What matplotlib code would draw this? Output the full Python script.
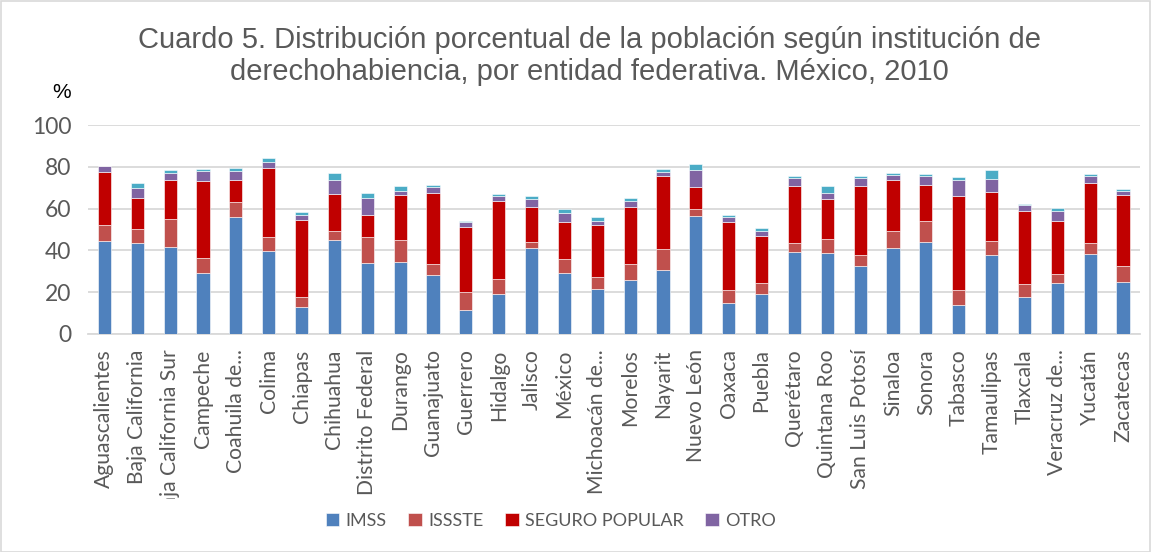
import matplotlib
matplotlib.use("Agg")
import matplotlib.pyplot as plt
from matplotlib.transforms import Bbox
from matplotlib.patches import Rectangle
import numpy as np

states = ["Aguascalientes", "Baja California", "Baja California Sur", "Campeche",
          "Coahuila de...", "Colima", "Chiapas", "Chihuahua", "Distrito Federal",
          "Durango", "Guanajuato", "Guerrero", "Hidalgo", "Jalisco", "México",
          "Michoacán de...", "Morelos", "Nayarit", "Nuevo León", "Oaxaca", "Puebla",
          "Querétaro", "Quintana Roo", "San Luis Potosí", "Sinaloa", "Sonora",
          "Tabasco", "Tamaulipas", "Tlaxcala", "Veracruz de...", "Yucatán", "Zacatecas"]

imss = [44.7, 43.6, 41.7, 29.2, 56.1, 39.6, 12.7, 45.0, 34.1, 34.5, 28.4, 11.7, 19.3,
        41.2, 29.2, 21.4, 26.0, 30.4, 56.4, 14.6, 19.3, 39.3, 38.7, 32.3, 41.2, 44.0,
        13.8, 37.9, 17.7, 24.4, 38.5, 25.0]
issste = [7.4, 6.8, 13.4, 7.2, 7.0, 7.0, 4.9, 4.4, 12.5, 10.5, 4.9, 8.3, 7.0, 3.0,
          6.9, 5.8, 7.3, 10.5, 3.5, 6.3, 4.9, 4.4, 6.9, 5.7, 8.2, 10.2, 7.1, 6.6, 6.1,
          4.1, 5.1, 7.3]
seguro = [25.5, 14.9, 18.4, 36.6, 10.6, 32.6, 37.1, 17.8, 10.3, 21.7, 34.3, 31.2,
          37.1, 16.8, 17.3, 24.9, 27.7, 34.8, 10.6, 32.6, 22.5, 27.3, 19.2, 33.0,
          24.1, 17.3, 44.9, 23.6, 35.1, 25.4, 28.8, 34.4]
otro = [2.7, 4.7, 3.7, 4.8, 4.1, 3.2, 2.2, 6.5, 8.1, 1.9, 2.6, 2.2, 2.5, 3.8, 4.7,
        2.2, 2.4, 1.9, 8.1, 2.7, 2.7, 3.6, 2.8, 3.5, 2.7, 4.2, 7.9, 5.9, 2.6, 4.9,
        3.3, 1.6]
extra = [0.3, 2.1, 1.5, 1.1, 1.7, 1.9, 1.6, 3.5, 2.5, 2.4, 0.9, 0.8, 0.9, 1.4, 1.6,
         1.5, 1.9, 1.3, 2.7, 0.8, 1.5, 1.0, 3.1, 1.1, 0.8, 0.8, 1.4, 4.3, 0.8, 1.6,
         1.0, 1.1]

series = [("IMSS", imss, "#4F81BD"), ("ISSSTE", issste, "#C0504D"),
          ("SEGURO POPULAR", seguro, "#C00000"), ("OTRO", otro, "#8064A2"),
          (None, extra, "#4BACC6")]

yticks = [0, 20, 40, 60, 80, 100]
title_lines = ["Cuardo 5. Distribución porcentual de la población según institución de",
               "derechohabiencia, por entidad federativa. México, 2010"]

W, H = 1151, 552
fig = plt.figure(figsize=(W / 100, H / 100), dpi=100)
ax = fig.add_axes([88 / W, 1 - 334 / H, (1139.5 - 88) / W, (334 - 125) / H])

x = np.arange(len(states))
bottom = np.zeros(len(states))
handles = []
for name, vals, col in series:
    v = np.array(vals)
    b = ax.bar(x, v, 0.4, bottom=bottom, color=col, edgecolor="#ffffff",
               linewidth=0.4, zorder=3, label=name if name else "_nolegend_")
    if name:
        handles.append(b)
    bottom += v

ax.set_xlim(-0.5, len(states) - 0.5)
ax.set_ylim(0, 100)
ax.set_yticks(yticks)
ax.yaxis.grid(True, color="#d9d9d9", linewidth=1.3, zorder=0)
ax.set_axisbelow(True)
for s in ["top", "right", "left"]:
    ax.spines[s].set_visible(False)
ax.spines["bottom"].set_color("#d9d9d9")
ax.spines["bottom"].set_linewidth(1.3)
ax.tick_params(axis="both", length=0, colors="#595959")
ax.tick_params(axis="y", labelsize=16.5, pad=12)
ax.tick_params(axis="x", labelsize=15.2, pad=11)
ax.set_xticks(x)
ax.set_xticklabels(states, rotation=90, family="Lato", va="top", ha="center")
for lab in ax.get_yticklabels():
    lab.set_family("Lato")

clip = Bbox.from_extents(0, H - 499, W, H)
for lab in ax.get_xticklabels():
    lab.set_clip_on(True)
    lab.set_clip_box(clip)

for i, line in enumerate(title_lines):
    fig.text(589 / W, 1 - (40 + 32 * i) / H, line, ha="center", va="center",
             fontsize=21, color="#595959", family="Liberation Sans")
fig.text(62 / W, 1 - 92 / H, "%", ha="center", va="center", fontsize=15,
         color="#000000", family="Liberation Sans")

leg = fig.legend(handles=handles, loc="center", bbox_to_anchor=(551 / W, 1 - 521 / H),
                 ncol=4, frameon=False, prop={"family": "Lato", "size": 13},
                 handlelength=0.75, handleheight=0.75, handletextpad=0.35,
                 columnspacing=1.2, labelcolor="#595959")

fig.patches.append(Rectangle((0.5 / W, 0.5 / H), (W - 1.5) / W, (H - 1.5) / H,
                             transform=fig.transFigure, fill=False,
                             edgecolor="#d9d9d9", linewidth=1.2))

fig.savefig("out.png", dpi=100)
